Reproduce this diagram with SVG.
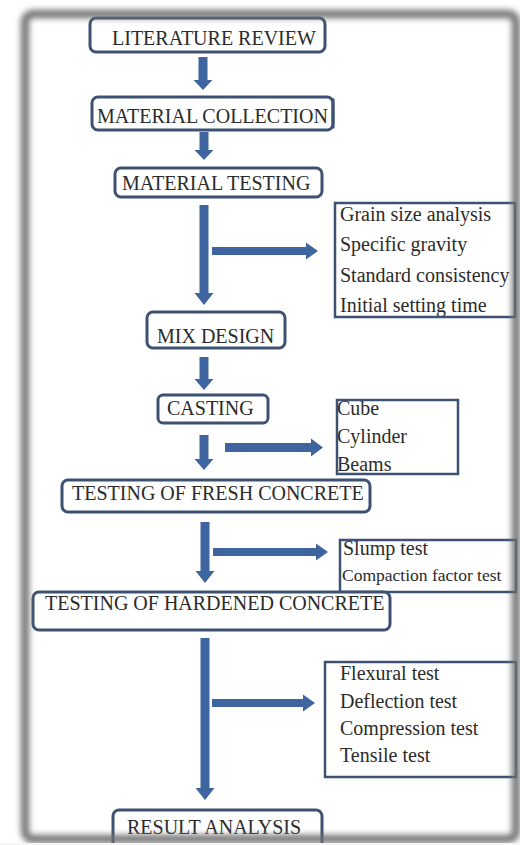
<svg xmlns="http://www.w3.org/2000/svg" width="520" height="845" viewBox="0 0 520 845">
<defs>
<filter id="blur" x="-5%" y="-5%" width="110%" height="110%"><feGaussianBlur stdDeviation="3"/></filter>
<style>
.box{fill:#fff;stroke:#3d5273;stroke-width:3}
.sbox{fill:none;stroke:#3d5273;stroke-width:2.5}
.t{font-size:20px;fill:#2b2b2b}
.arr{fill:#3f65a0}
</style>
</defs>
<rect width="520" height="845" fill="#fff"/>

<g id="connectors">
<polygon class="arr" points="198.5,57 207.5,57 207.5,80 212.5,80 203,90 193.5,80 198.5,80"/>
<polygon class="arr" points="199.5,132 208.5,132 208.5,150 213.5,150 204,160 194.5,150 199.5,150"/>
<polygon class="arr" points="199.5,205 208.5,205 208.5,293 213.5,293 204,305 194.5,293 199.5,293"/>
<polygon class="arr" points="199.5,357 208.5,357 208.5,379 213.5,379 204,390 194.5,379 199.5,379"/>
<polygon class="arr" points="199.5,435 208.5,435 208.5,459 213.5,459 204,470 194.5,459 199.5,459"/>
<polygon class="arr" points="200.5,522 209.5,522 209.5,571 214.5,571 205,583 195.5,571 200.5,571"/>
<polygon class="arr" points="200.5,638 209.5,638 209.5,788 214.5,788 205,800 195.5,788 200.5,788"/>
<polygon class="arr" points="212,247 306,247 306,242.5 318,251 306,259.5 306,255 212,255"/>
<polygon class="arr" points="225,443 311,443 311,438.5 323,447.5 311,456.5 311,452 225,452"/>
<polygon class="arr" points="213,548 316,548 316,543.5 328,552 316,560.5 316,556 213,556"/>
<polygon class="arr" points="212,699 303,699 303,694.5 315,703 303,711.5 303,707 212,707"/>
</g>

<g font-family="Liberation Serif, DejaVu Serif, serif">
<g id="literature-review">
<rect class="box" x="90" y="18" width="235" height="34" rx="6"/>
<text class="t" x="112" y="45">LITERATURE REVIEW</text>
</g>
<g id="material-collection">
<rect class="box" x="92" y="97" width="241" height="33" rx="6"/>
<text class="t" x="97" y="123">MATERIAL COLLECTION</text>
<rect x="331.5" y="98.5" width="3" height="30" fill="#3d5273"/>
</g>
<g id="material-testing">
<rect class="box" x="115" y="168" width="207" height="29" rx="6"/>
<text class="t" x="122" y="190">MATERIAL TESTING</text>
</g>
<g id="material-tests">
<text class="t" x="340" y="221">Grain size analysis</text>
<text class="t" x="340" y="251">Specific gravity</text>
<text class="t" x="340" y="282">Standard consistency</text>
<text class="t" x="340" y="312">Initial setting time</text>
<rect class="sbox" x="335" y="203" width="180" height="114"/>
</g>
<g id="mix-design">
<rect class="box" x="147" y="312" width="138" height="36" rx="6"/>
<text class="t" x="157" y="343">MIX DESIGN</text>
</g>
<g id="casting">
<rect class="box" x="158" y="395" width="110" height="28" rx="5"/>
<text class="t" x="167" y="415">CASTING</text>
</g>
<g id="specimens">
<text class="t" x="337" y="415">Cube</text>
<text class="t" x="337" y="443">Cylinder</text>
<text class="t" x="337" y="471">Beams</text>
<rect class="sbox" x="337" y="400" width="121" height="74"/>
</g>
<g id="fresh-concrete">
<rect class="box" x="62" y="480" width="308" height="32" rx="6"/>
<text class="t" x="72" y="500">TESTING OF FRESH CONCRETE</text>
</g>
<g id="fresh-tests">
<text class="t" x="343" y="555">Slump test</text>
<text class="t" x="342" y="581" style="font-size:17.5px">Compaction factor test</text>
<rect class="sbox" x="340" y="540" width="176" height="52"/>
</g>
<g id="hardened-concrete">
<rect class="box" x="33" y="592" width="357" height="38" rx="6"/>
<text class="t" x="45" y="610">TESTING OF HARDENED CONCRETE</text>
</g>
<g id="hardened-tests">
<text class="t" x="340" y="680">Flexural test</text>
<text class="t" x="340" y="708">Deflection test</text>
<text class="t" x="340" y="735">Compression test</text>
<text class="t" x="340" y="762">Tensile test</text>
<rect class="sbox" x="325" y="662" width="191" height="115"/>
</g>
<g id="result-analysis">
<rect class="box" x="113" y="810" width="209" height="40" rx="6"/>
<text class="t" x="127" y="834">RESULT ANALYSIS</text>
</g>
</g>

<g id="frame">
<rect x="25" y="14" width="491" height="825" rx="8" fill="none" stroke="#6e6e6e" stroke-width="8" filter="url(#blur)"/>
<rect x="0" y="843" width="520" height="2" fill="#f4f4f4"/>
</g>
</svg>
